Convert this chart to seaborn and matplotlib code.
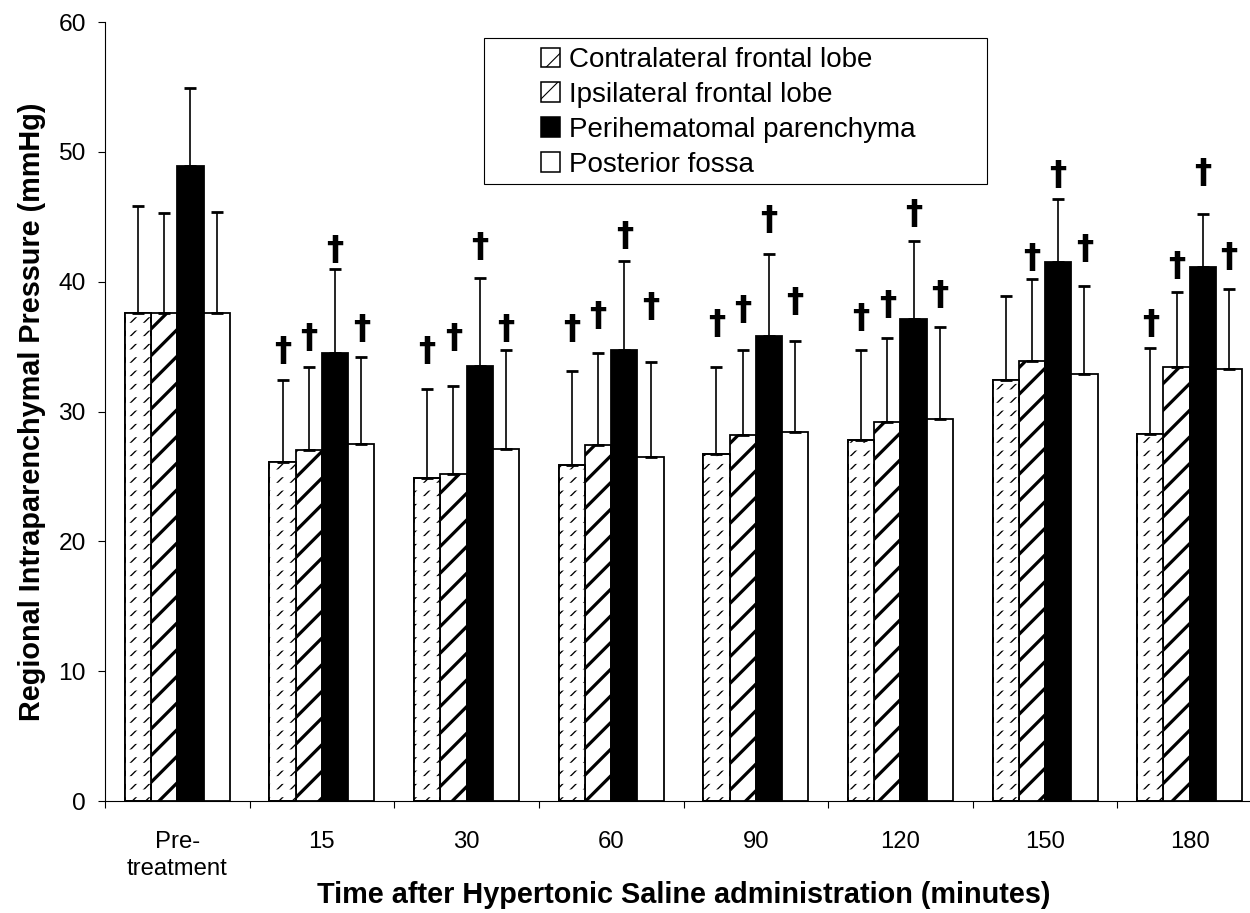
import numpy as np
import pandas as pd
import matplotlib
matplotlib.use("Agg")
import matplotlib.pyplot as plt
from matplotlib.patches import Patch, Rectangle
import seaborn as sns

# ---- data -------------------------------------------------------------
time_points = ["Pre-\ntreatment", "15", "30", "60", "90", "120", "150", "180"]
regions = ["Contralateral frontal lobe", "Ipsilateral frontal lobe",
           "Perihematomal parenchyma", "Posterior fossa"]

contralateral_mean = [37.6, 26.1, 24.9, 25.9, 26.7, 27.8, 32.4, 28.3]
contralateral_sd = [8.2, 6.3, 6.8, 7.2, 6.7, 6.9, 6.5, 6.6]
ipsilateral_mean = [37.6, 27.0, 25.2, 27.4, 28.2, 29.2, 33.9, 33.4]
ipsilateral_sd = [7.7, 6.4, 6.8, 7.1, 6.5, 6.5, 6.3, 5.8]
perihematomal_mean = [48.9, 34.5, 33.5, 34.7, 35.8, 37.1, 41.5, 41.1]
perihematomal_sd = [6.0, 6.5, 6.8, 6.9, 6.3, 6.0, 4.9, 4.1]
posterior_mean = [37.6, 27.5, 27.1, 26.5, 28.4, 29.4, 32.9, 33.3]
posterior_sd = [7.8, 6.7, 7.6, 7.3, 7.0, 7.1, 6.8, 6.1]

# level (mmHg) of the significance dagger above each bar; nan = not significant
nan = np.nan
contralateral_sig = [nan, 34.6, 34.6, 36.3, 36.7, 37.2, nan, 36.7]
ipsilateral_sig = [nan, 35.6, 35.6, 37.3, 37.8, 38.2, 41.8, 41.2]
perihematomal_sig = [nan, 42.4, 42.6, 43.5, 44.7, 45.2, 48.2, 48.3]
posterior_sig = [nan, 36.3, 36.3, 38.0, 38.4, 38.9, 42.5, 41.9]

means = [contralateral_mean, ipsilateral_mean, perihematomal_mean, posterior_mean]
sds = [contralateral_sd, ipsilateral_sd, perihematomal_sd, posterior_sd]
sig_levels = [contralateral_sig, ipsilateral_sig, perihematomal_sig, posterior_sig]

df = pd.DataFrame({
    "time": np.tile(time_points, len(regions)),
    "region": np.repeat(regions, len(time_points)),
    "pressure": np.concatenate(means),
})

# ---- style ------------------------------------------------------------
sns.set_theme(style="ticks")
plt.rcParams["font.family"] = ["Liberation Sans", "DejaVu Sans"]
for key in ("text.color", "axes.labelcolor", "xtick.color", "ytick.color",
            "axes.edgecolor"):
    plt.rcParams[key] = "black"

DPI = 80
fig = plt.figure(figsize=(1250 / DPI, 913 / DPI), dpi=DPI)
ax = fig.add_axes([0.084, 0.12267, 0.9256, 0.8532])

BAR_LW = 1.6
sns.barplot(data=df, x="time", y="pressure", hue="region",
            order=time_points, hue_order=regions,
            palette=["white", "white", "black", "white"],
            edgecolor="black", linewidth=BAR_LW, width=0.726, gap=0,
            errorbar=None, legend=False, saturation=1, ax=ax)


def set_hatch_lw(patch, lw):
    if hasattr(patch, "set_hatch_linewidth"):
        patch.set_hatch_linewidth(lw)


hatches = ["//", "/", "", ""]
hatch_lws = [1.2, 2.9, 1.0, 1.0]
for cont, h, hlw in zip(ax.containers, hatches, hatch_lws):
    for p in cont:
        if h:
            p.set_hatch(h)
            set_hatch_lw(p, hlw)

# break the fine hatching of the first series into short dashes
for p in ax.containers[0]:
    x0, w, hgt = p.get_x(), p.get_width(), p.get_height()
    breaker = Rectangle((x0, 0), w, hgt, fill=False, hatch="-",
                        edgecolor="white", linewidth=0,
                        zorder=p.get_zorder() + 0.1)
    set_hatch_lw(breaker, 7.0)
    ax.add_patch(breaker)
    outline = Rectangle((x0, 0), w, hgt, fill=False, edgecolor="black",
                        linewidth=BAR_LW, zorder=p.get_zorder() + 0.2)
    ax.add_patch(outline)

# upper error bars and significance daggers
for cont, m, sd, sig in zip(ax.containers, means, sds, sig_levels):
    xs = [p.get_x() + p.get_width() / 2 for p in cont]
    ax.errorbar(xs, m, yerr=[np.zeros(len(sd)), sd], fmt="none",
                ecolor="black", elinewidth=1.5, capsize=5.6, capthick=2.5,
                zorder=3)
    for x, lev in zip(xs, sig):
        if not np.isnan(lev):
            ax.text(x, lev, "\u2020", ha="center", va="center",
                    fontsize=31, fontweight="bold", family="DejaVu Sans",
                    color="black", zorder=4)

# ---- axes -------------------------------------------------------------
ax.set_ylim(0, 60)
ax.set_yticks(np.arange(0, 61, 10))
ax.tick_params(axis="y", direction="out", length=6.3, width=1, pad=11,
               labelsize=22)

ax.set_xlim(-0.5, 7.5)
ax.set_xticks(np.arange(-0.5, 8, 1))
ax.set_xticklabels([])
ax.set_xticks(np.arange(8), minor=True)
ax.set_xticklabels(time_points, minor=True, linespacing=1.3)
ax.tick_params(axis="x", which="major", direction="out", length=6.3, width=1)
ax.tick_params(axis="x", which="minor", length=0, pad=27, labelsize=21.5)

sns.despine(ax=ax)
for s in ("left", "bottom"):
    ax.spines[s].set_linewidth(1.0)
    ax.spines[s].set_color("black")

ax.set_xlabel("Time after Hypertonic Saline administration (minutes)",
              fontsize=26, fontweight="bold")
ax.xaxis.set_label_coords(0.5, -0.1027)
ax.xaxis.label.set_va("top")
ax.set_ylabel("Regional Intraparenchymal Pressure (mmHg)",
              fontsize=26, fontweight="bold")
ax.yaxis.set_label_coords(-0.063, 0.5)
ax.yaxis.label.set_va("center")

# ---- legend -----------------------------------------------------------
handles = [
    Patch(facecolor="white", edgecolor="black", hatch="/", linewidth=1.4),
    Patch(facecolor="white", edgecolor="black", hatch="/", linewidth=1.4),
    Patch(facecolor="black", edgecolor="black", linewidth=1.4),
    Patch(facecolor="white", edgecolor="black", linewidth=1.4),
]
set_hatch_lw(handles[0], 0.9)
set_hatch_lw(handles[1], 2.4)
fig.legend(handles, regions, loc="upper left",
           bbox_to_anchor=(541 / 1250, 1 - 47 / 913),
           frameon=False, fontsize=25, handlelength=0.7, handleheight=0.7,
           handletextpad=0.3, labelspacing=0.32, borderpad=0,
           borderaxespad=0)
fig.add_artist(Rectangle((484 / 1250, 1 - 184 / 913), (987 - 484) / 1250,
                         (184 - 38) / 913, transform=fig.transFigure,
                         fill=False, edgecolor="black", linewidth=1.0))

fig.savefig("out.png", dpi=DPI, facecolor="white")
